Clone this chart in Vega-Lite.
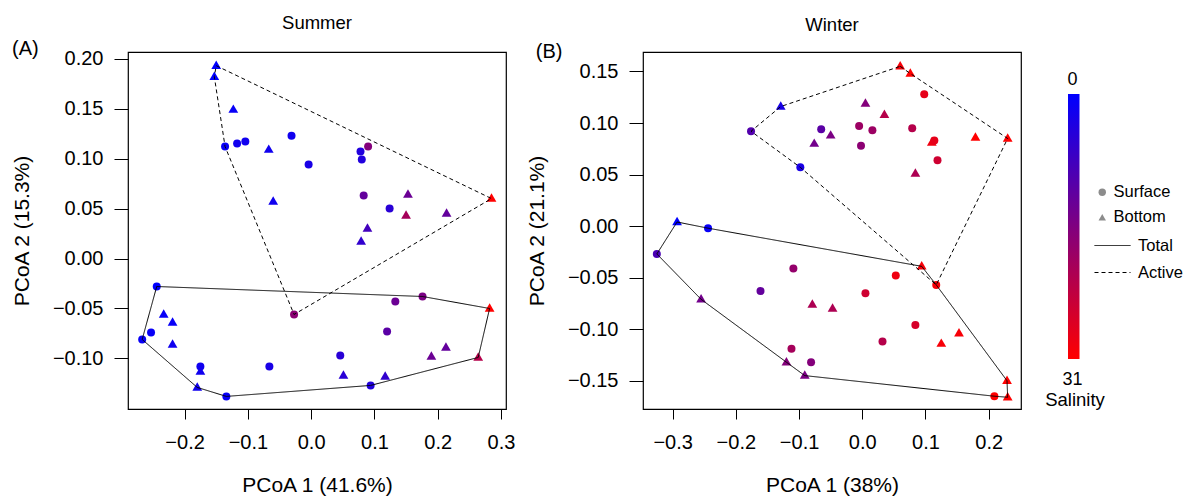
{
  "$schema": "https://vega.github.io/schema/vega-lite/v6.json",
  "padding": {"left": 10, "top": 12, "right": 5, "bottom": 5},
  "spacing": 9,
  "config": {
    "font": "Liberation Sans",
    "view": {"stroke": "black", "strokeWidth": 1.2},
    "axis": {"domain": false, "grid": false, "tickColor": "black", "tickWidth": 1, "labelFont": "Liberation Sans", "labelFontSize": 20, "labelColor": "black", "titleFont": "Liberation Sans", "titleFontSize": 21, "titleFontWeight": "normal", "titleColor": "black", "labelFlush": false, "labelOverlap": false},
    "axisX": {"tickSize": 10, "labelPadding": 13.5, "titlePadding": 21.5},
    "axisY": {"tickSize": 14, "labelPadding": 11, "titlePadding": 20},
    "title": {"fontSize": 18.5, "fontWeight": "normal", "font": "Liberation Sans", "color": "black", "offset": 7},
    "legend": {"labelFont": "Liberation Sans", "titleFont": "Liberation Sans", "labelColor": "black", "titleColor": "black", "padding": 0}
  },
  "datasets": {
    "points": [
      {"season": "Summer", "depth": "Bottom", "pc1": -0.150, "pc2": 0.194, "salinity": 0},
      {"season": "Summer", "depth": "Bottom", "pc1": -0.153, "pc2": 0.183, "salinity": 0},
      {"season": "Summer", "depth": "Bottom", "pc1": -0.123, "pc2": 0.150, "salinity": 1},
      {"season": "Summer", "depth": "Surface", "pc1": -0.136, "pc2": 0.112, "salinity": 1},
      {"season": "Summer", "depth": "Surface", "pc1": -0.117, "pc2": 0.115, "salinity": 2},
      {"season": "Summer", "depth": "Surface", "pc1": -0.104, "pc2": 0.117, "salinity": 2},
      {"season": "Summer", "depth": "Surface", "pc1": -0.031, "pc2": 0.123, "salinity": 2},
      {"season": "Summer", "depth": "Bottom", "pc1": -0.067, "pc2": 0.110, "salinity": 2},
      {"season": "Summer", "depth": "Surface", "pc1": -0.004, "pc2": 0.094, "salinity": 3},
      {"season": "Summer", "depth": "Surface", "pc1": 0.078, "pc2": 0.107, "salinity": 4},
      {"season": "Summer", "depth": "Surface", "pc1": 0.090, "pc2": 0.112, "salinity": 16},
      {"season": "Summer", "depth": "Surface", "pc1": 0.080, "pc2": 0.099, "salinity": 4},
      {"season": "Summer", "depth": "Bottom", "pc1": -0.060, "pc2": 0.058, "salinity": 2},
      {"season": "Summer", "depth": "Surface", "pc1": 0.083, "pc2": 0.063, "salinity": 12},
      {"season": "Summer", "depth": "Bottom", "pc1": 0.153, "pc2": 0.065, "salinity": 13},
      {"season": "Summer", "depth": "Bottom", "pc1": 0.285, "pc2": 0.061, "salinity": 31},
      {"season": "Summer", "depth": "Surface", "pc1": 0.124, "pc2": 0.050, "salinity": 5},
      {"season": "Summer", "depth": "Bottom", "pc1": 0.150, "pc2": 0.044, "salinity": 20},
      {"season": "Summer", "depth": "Bottom", "pc1": 0.214, "pc2": 0.046, "salinity": 12},
      {"season": "Summer", "depth": "Bottom", "pc1": 0.089, "pc2": 0.031, "salinity": 8},
      {"season": "Summer", "depth": "Bottom", "pc1": 0.079, "pc2": 0.018, "salinity": 6},
      {"season": "Summer", "depth": "Surface", "pc1": -0.244, "pc2": -0.028, "salinity": 0},
      {"season": "Summer", "depth": "Surface", "pc1": 0.176, "pc2": -0.038, "salinity": 15},
      {"season": "Summer", "depth": "Surface", "pc1": 0.133, "pc2": -0.043, "salinity": 13},
      {"season": "Summer", "depth": "Bottom", "pc1": 0.282, "pc2": -0.049, "salinity": 31},
      {"season": "Summer", "depth": "Surface", "pc1": -0.027, "pc2": -0.056, "salinity": 17},
      {"season": "Summer", "depth": "Bottom", "pc1": -0.233, "pc2": -0.055, "salinity": 1},
      {"season": "Summer", "depth": "Bottom", "pc1": -0.219, "pc2": -0.063, "salinity": 1},
      {"season": "Summer", "depth": "Surface", "pc1": -0.253, "pc2": -0.074, "salinity": 1},
      {"season": "Summer", "depth": "Surface", "pc1": -0.267, "pc2": -0.081, "salinity": 1},
      {"season": "Summer", "depth": "Bottom", "pc1": -0.219, "pc2": -0.085, "salinity": 2},
      {"season": "Summer", "depth": "Surface", "pc1": 0.120, "pc2": -0.073, "salinity": 11},
      {"season": "Summer", "depth": "Surface", "pc1": 0.046, "pc2": -0.097, "salinity": 5},
      {"season": "Summer", "depth": "Bottom", "pc1": 0.190, "pc2": -0.097, "salinity": 13},
      {"season": "Summer", "depth": "Bottom", "pc1": 0.213, "pc2": -0.088, "salinity": 12},
      {"season": "Summer", "depth": "Bottom", "pc1": 0.264, "pc2": -0.098, "salinity": 22},
      {"season": "Summer", "depth": "Surface", "pc1": -0.066, "pc2": -0.108, "salinity": 3},
      {"season": "Summer", "depth": "Bottom", "pc1": -0.175, "pc2": -0.112, "salinity": 2},
      {"season": "Summer", "depth": "Surface", "pc1": -0.175, "pc2": -0.108, "salinity": 2},
      {"season": "Summer", "depth": "Bottom", "pc1": 0.051, "pc2": -0.116, "salinity": 5},
      {"season": "Summer", "depth": "Bottom", "pc1": 0.117, "pc2": -0.117, "salinity": 6},
      {"season": "Summer", "depth": "Bottom", "pc1": -0.180, "pc2": -0.128, "salinity": 2},
      {"season": "Summer", "depth": "Surface", "pc1": 0.094, "pc2": -0.127, "salinity": 4},
      {"season": "Summer", "depth": "Surface", "pc1": -0.134, "pc2": -0.138, "salinity": 1},
      {"season": "Winter", "depth": "Bottom", "pc1": 0.060, "pc2": 0.156, "salinity": 30},
      {"season": "Winter", "depth": "Bottom", "pc1": 0.076, "pc2": 0.149, "salinity": 31},
      {"season": "Winter", "depth": "Surface", "pc1": 0.098, "pc2": 0.128, "salinity": 28},
      {"season": "Winter", "depth": "Bottom", "pc1": -0.129, "pc2": 0.117, "salinity": 3},
      {"season": "Winter", "depth": "Bottom", "pc1": 0.005, "pc2": 0.120, "salinity": 16},
      {"season": "Winter", "depth": "Bottom", "pc1": 0.035, "pc2": 0.109, "salinity": 22},
      {"season": "Winter", "depth": "Surface", "pc1": -0.176, "pc2": 0.092, "salinity": 10},
      {"season": "Winter", "depth": "Surface", "pc1": -0.065, "pc2": 0.094, "salinity": 11},
      {"season": "Winter", "depth": "Bottom", "pc1": -0.050, "pc2": 0.089, "salinity": 15},
      {"season": "Winter", "depth": "Bottom", "pc1": -0.076, "pc2": 0.081, "salinity": 14},
      {"season": "Winter", "depth": "Surface", "pc1": -0.005, "pc2": 0.097, "salinity": 19},
      {"season": "Winter", "depth": "Surface", "pc1": 0.016, "pc2": 0.093, "salinity": 19},
      {"season": "Winter", "depth": "Surface", "pc1": -0.002, "pc2": 0.078, "salinity": 17},
      {"season": "Winter", "depth": "Surface", "pc1": 0.079, "pc2": 0.095, "salinity": 22},
      {"season": "Winter", "depth": "Bottom", "pc1": 0.110, "pc2": 0.082, "salinity": 29},
      {"season": "Winter", "depth": "Surface", "pc1": 0.114, "pc2": 0.083, "salinity": 28},
      {"season": "Winter", "depth": "Bottom", "pc1": 0.179, "pc2": 0.087, "salinity": 31},
      {"season": "Winter", "depth": "Bottom", "pc1": 0.230, "pc2": 0.086, "salinity": 31},
      {"season": "Winter", "depth": "Surface", "pc1": 0.119, "pc2": 0.064, "salinity": 25},
      {"season": "Winter", "depth": "Bottom", "pc1": 0.084, "pc2": 0.052, "salinity": 21},
      {"season": "Winter", "depth": "Surface", "pc1": -0.098, "pc2": 0.057, "salinity": 3},
      {"season": "Winter", "depth": "Bottom", "pc1": -0.293, "pc2": 0.005, "salinity": 0},
      {"season": "Winter", "depth": "Surface", "pc1": -0.244, "pc2": -0.002, "salinity": 1},
      {"season": "Winter", "depth": "Surface", "pc1": -0.325, "pc2": -0.027, "salinity": 9},
      {"season": "Winter", "depth": "Surface", "pc1": -0.109, "pc2": -0.041, "salinity": 18},
      {"season": "Winter", "depth": "Bottom", "pc1": 0.094, "pc2": -0.038, "salinity": 30},
      {"season": "Winter", "depth": "Surface", "pc1": 0.053, "pc2": -0.048, "salinity": 29},
      {"season": "Winter", "depth": "Surface", "pc1": 0.117, "pc2": -0.057, "salinity": 30},
      {"season": "Winter", "depth": "Surface", "pc1": -0.161, "pc2": -0.063, "salinity": 12},
      {"season": "Winter", "depth": "Surface", "pc1": 0.005, "pc2": -0.065, "salinity": 25},
      {"season": "Winter", "depth": "Bottom", "pc1": -0.255, "pc2": -0.070, "salinity": 14},
      {"season": "Winter", "depth": "Bottom", "pc1": -0.079, "pc2": -0.075, "salinity": 21},
      {"season": "Winter", "depth": "Bottom", "pc1": -0.047, "pc2": -0.079, "salinity": 21},
      {"season": "Winter", "depth": "Surface", "pc1": 0.084, "pc2": -0.096, "salinity": 26},
      {"season": "Winter", "depth": "Bottom", "pc1": 0.153, "pc2": -0.103, "salinity": 30},
      {"season": "Winter", "depth": "Surface", "pc1": 0.032, "pc2": -0.112, "salinity": 22},
      {"season": "Winter", "depth": "Bottom", "pc1": 0.125, "pc2": -0.113, "salinity": 30},
      {"season": "Winter", "depth": "Surface", "pc1": -0.112, "pc2": -0.119, "salinity": 20},
      {"season": "Winter", "depth": "Bottom", "pc1": -0.120, "pc2": -0.131, "salinity": 16},
      {"season": "Winter", "depth": "Surface", "pc1": -0.081, "pc2": -0.132, "salinity": 16},
      {"season": "Winter", "depth": "Bottom", "pc1": -0.091, "pc2": -0.144, "salinity": 15},
      {"season": "Winter", "depth": "Bottom", "pc1": 0.229, "pc2": -0.149, "salinity": 31},
      {"season": "Winter", "depth": "Surface", "pc1": 0.209, "pc2": -0.165, "salinity": 31},
      {"season": "Winter", "depth": "Bottom", "pc1": 0.230, "pc2": -0.165, "salinity": 31}
    ],
    "hulls": [
      {"season": "Summer", "type": "Total", "ord": 1, "pc1": -0.244, "pc2": -0.028},
      {"season": "Summer", "type": "Total", "ord": 2, "pc1": 0.176, "pc2": -0.038},
      {"season": "Summer", "type": "Total", "ord": 3, "pc1": 0.282, "pc2": -0.050},
      {"season": "Summer", "type": "Total", "ord": 4, "pc1": 0.264, "pc2": -0.099},
      {"season": "Summer", "type": "Total", "ord": 5, "pc1": 0.094, "pc2": -0.127},
      {"season": "Summer", "type": "Total", "ord": 6, "pc1": -0.134, "pc2": -0.138},
      {"season": "Summer", "type": "Total", "ord": 7, "pc1": -0.180, "pc2": -0.129},
      {"season": "Summer", "type": "Total", "ord": 8, "pc1": -0.267, "pc2": -0.081},
      {"season": "Summer", "type": "Total", "ord": 9, "pc1": -0.244, "pc2": -0.028},
      {"season": "Summer", "type": "Active", "ord": 1, "pc1": -0.150, "pc2": 0.193},
      {"season": "Summer", "type": "Active", "ord": 2, "pc1": 0.285, "pc2": 0.060},
      {"season": "Summer", "type": "Active", "ord": 3, "pc1": -0.027, "pc2": -0.056},
      {"season": "Summer", "type": "Active", "ord": 4, "pc1": -0.136, "pc2": 0.112},
      {"season": "Summer", "type": "Active", "ord": 5, "pc1": -0.153, "pc2": 0.182},
      {"season": "Summer", "type": "Active", "ord": 6, "pc1": -0.150, "pc2": 0.193},
      {"season": "Winter", "type": "Total", "ord": 1, "pc1": -0.293, "pc2": 0.004},
      {"season": "Winter", "type": "Total", "ord": 2, "pc1": -0.244, "pc2": -0.002},
      {"season": "Winter", "type": "Total", "ord": 3, "pc1": 0.094, "pc2": -0.039},
      {"season": "Winter", "type": "Total", "ord": 4, "pc1": 0.117, "pc2": -0.057},
      {"season": "Winter", "type": "Total", "ord": 5, "pc1": 0.229, "pc2": -0.150},
      {"season": "Winter", "type": "Total", "ord": 6, "pc1": 0.230, "pc2": -0.166},
      {"season": "Winter", "type": "Total", "ord": 7, "pc1": 0.209, "pc2": -0.165},
      {"season": "Winter", "type": "Total", "ord": 8, "pc1": -0.091, "pc2": -0.145},
      {"season": "Winter", "type": "Total", "ord": 9, "pc1": -0.120, "pc2": -0.132},
      {"season": "Winter", "type": "Total", "ord": 10, "pc1": -0.255, "pc2": -0.071},
      {"season": "Winter", "type": "Total", "ord": 11, "pc1": -0.325, "pc2": -0.027},
      {"season": "Winter", "type": "Total", "ord": 12, "pc1": -0.293, "pc2": 0.004},
      {"season": "Winter", "type": "Active", "ord": 1, "pc1": 0.060, "pc2": 0.155},
      {"season": "Winter", "type": "Active", "ord": 2, "pc1": 0.076, "pc2": 0.148},
      {"season": "Winter", "type": "Active", "ord": 3, "pc1": 0.230, "pc2": 0.085},
      {"season": "Winter", "type": "Active", "ord": 4, "pc1": 0.117, "pc2": -0.057},
      {"season": "Winter", "type": "Active", "ord": 5, "pc1": -0.098, "pc2": 0.057},
      {"season": "Winter", "type": "Active", "ord": 6, "pc1": -0.176, "pc2": 0.092},
      {"season": "Winter", "type": "Active", "ord": 7, "pc1": -0.129, "pc2": 0.116},
      {"season": "Winter", "type": "Active", "ord": 8, "pc1": 0.060, "pc2": 0.155}
    ]
  },
  "hconcat": [
    {
      "width": 378,
      "height": 357,
      "title": {"text": "Summer"},
      "layer": [
        {
          "data": {"name": "points"},
          "transform": [{"filter": "datum.season === 'Summer'"}],
          "mark": {"type": "point", "filled": true, "opacity": 1, "strokeWidth": 0},
          "encoding": {
            "x": {"field": "pc1", "type": "quantitative", "scale": {"domain": [-0.2894, 0.3079], "nice": false, "zero": false}, "axis": {"title": "PCoA 1 (41.6%)", "values": [-0.2, -0.1, 0, 0.1, 0.2, 0.3], "format": ".1f"}},
            "y": {"field": "pc2", "type": "quantitative", "scale": {"domain": [-0.1506, 0.2067], "nice": false, "zero": false}, "axis": {"title": "PCoA 2 (15.3%)", "values": [-0.1, -0.05, 0, 0.05, 0.1, 0.15, 0.2], "format": ".2f"}},
            "color": {"field": "salinity", "type": "quantitative", "scale": {"domain": [31, 0], "range": ["#ff0000", "#0000ff"], "interpolate": "rgb", "nice": false}, "legend": {"orient": "none", "legendX": 917, "legendY": 42, "direction": "vertical", "gradientLength": 265, "gradientThickness": 11.5, "values": [0, 31], "labelExpr": "''", "title": "Salinity", "titleOrient": "bottom", "titleAnchor": "middle", "titleFontSize": 18.5, "titleFontWeight": "normal", "titlePadding": 32, "labelFontSize": 18}},
            "shape": {"field": "depth", "type": "nominal", "scale": {"domain": ["Surface", "Bottom"], "range": ["circle", "triangle-up"]}, "legend": {"orient": "none", "legendX": 966, "legendY": 132, "title": null, "symbolFillColor": "#8c8c8c", "symbolStrokeWidth": 0, "symbolSize": 55, "labelFontSize": 16.5, "labelOffset": 3, "rowPadding": 8}},
            "size": {"condition": {"test": "datum.depth === 'Bottom'", "value": 95}, "value": 64}
          }
        },
        {
          "data": {"name": "hulls"},
          "transform": [{"filter": "datum.season === 'Summer'"}],
          "mark": {"type": "line", "color": "black", "strokeWidth": 1},
          "encoding": {
            "x": {"field": "pc1", "type": "quantitative"},
            "y": {"field": "pc2", "type": "quantitative"},
            "order": {"field": "ord", "type": "quantitative"},
            "strokeDash": {"field": "type", "type": "nominal", "scale": {"domain": ["Total", "Active"], "range": [[1, 0], [4, 3]]}, "legend": {"orient": "none", "legendX": 966, "legendY": 175, "title": null, "symbolType": "stroke", "symbolStrokeColor": "black", "symbolStrokeWidth": 1, "symbolSize": 1296, "labelFontSize": 16.5, "labelOffset": 7, "rowPadding": -6}}
          }
        },
        {
          "data": {"values": [{"tag": "(A)"}]},
          "mark": {"type": "text", "fontSize": 20, "align": "center", "baseline": "middle", "color": "black"},
          "encoding": {
            "x": {"datum": -0.4516},
            "y": {"datum": 0.2097},
            "text": {"field": "tag", "type": "nominal"}
          }
        }
      ]
    },
    {
      "width": 378,
      "height": 357,
      "title": {"text": "Winter"},
      "layer": [
        {
          "data": {"name": "points"},
          "transform": [{"filter": "datum.season === 'Winter'"}],
          "mark": {"type": "point", "filled": true, "opacity": 1, "strokeWidth": 0},
          "encoding": {
            "x": {"field": "pc1", "type": "quantitative", "scale": {"domain": [-0.3469, 0.2511], "nice": false, "zero": false}, "axis": {"title": "PCoA 1 (38%)", "values": [-0.3, -0.2, -0.1, 0, 0.1, 0.2], "format": ".1f"}},
            "y": {"field": "pc2", "type": "quantitative", "scale": {"domain": [-0.1774, 0.1689], "nice": false, "zero": false}, "axis": {"title": "PCoA 2 (21.1%)", "values": [-0.15, -0.1, -0.05, 0, 0.05, 0.1, 0.15], "format": ".2f"}},
            "color": {"field": "salinity", "type": "quantitative"},
            "shape": {"field": "depth", "type": "nominal"},
            "size": {"condition": {"test": "datum.depth === 'Bottom'", "value": 95}, "value": 64}
          }
        },
        {
          "data": {"name": "hulls"},
          "transform": [{"filter": "datum.season === 'Winter'"}],
          "mark": {"type": "line", "color": "black", "strokeWidth": 1},
          "encoding": {
            "x": {"field": "pc1", "type": "quantitative"},
            "y": {"field": "pc2", "type": "quantitative"},
            "order": {"field": "ord", "type": "quantitative"},
            "strokeDash": {"field": "type", "type": "nominal"}
          }
        },
        {
          "data": {"values": [{"tag": "(B)"}]},
          "mark": {"type": "text", "fontSize": 20, "align": "center", "baseline": "middle", "color": "black"},
          "encoding": {
            "x": {"datum": -0.4953},
            "y": {"datum": 0.1692},
            "text": {"field": "tag", "type": "nominal"}
          }
        },
        {
          "data": {"values": [{"tag": "0"}]},
          "mark": {"type": "text", "fontSize": 18, "align": "center", "baseline": "middle", "color": "black"},
          "encoding": {
            "x": {"datum": 0.3326},
            "y": {"datum": 0.1421},
            "text": {"field": "tag", "type": "nominal"}
          }
        },
        {
          "data": {"values": [{"tag": "31"}]},
          "mark": {"type": "text", "fontSize": 18, "align": "center", "baseline": "middle", "color": "black"},
          "encoding": {
            "x": {"datum": 0.3326},
            "y": {"datum": -0.1489},
            "text": {"field": "tag", "type": "nominal"}
          }
        }
      ]
    }
  ]
}
